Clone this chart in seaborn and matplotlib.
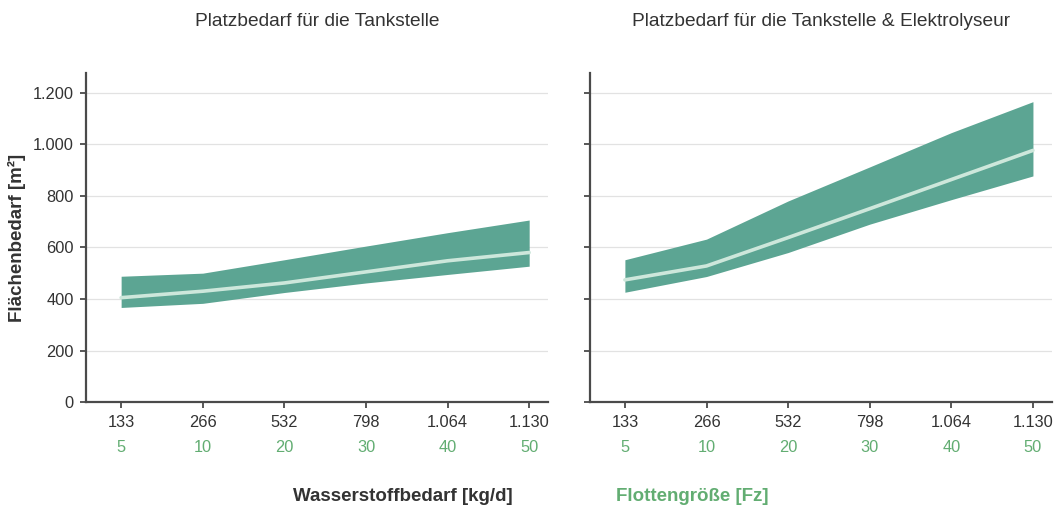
import numpy as np
import pandas as pd
import seaborn as sns
import matplotlib.pyplot as plt
import matplotlib.transforms as mtransforms

# Hydrogen demand (kg/d) and matching fleet size (vehicles)
h2_demand = ["133", "266", "532", "798", "1.064", "1.130"]
fleet_size = ["5", "10", "20", "30", "40", "50"]

# Area requirement, filling station only (m²)
station_low = [367, 383, 425, 462, 495, 527]
station_mid = [405, 430, 462, 505, 548, 580]
station_high = [488, 500, 552, 605, 657, 706]

# Area requirement, filling station plus electrolyser (m²)
electro_low = [426, 487, 580, 690, 785, 877]
electro_mid = [474, 528, 638, 750, 863, 976]
electro_high = [552, 632, 780, 912, 1045, 1165]

titles = ["Platzbedarf für die Tankstelle",
          "Platzbedarf für die Tankstelle & Elektrolyseur"]
y_ticks = [0, 200, 400, 600, 800, 1000, 1200]
y_ticklabels = ["0", "200", "400", "600", "800", "1.000", "1.200"]

BAND = "#5ca593"
MID = "#cde7db"
GREEN = "#62ad72"
DARK = "#333333"
SPINE = "#4a4a4a"

sns.set_theme(style="white")
plt.rcParams["font.family"] = ["Liberation Sans", "DejaVu Sans"]

fig = plt.figure(figsize=(10.57, 5.09), dpi=100)
ax_l = fig.add_axes([0.0814, 0.210, 0.437, 0.646])
ax_r = fig.add_axes([0.558, 0.210, 0.437, 0.646])

panels = [
    (ax_l, station_low, station_mid, station_high),
    (ax_r, electro_low, electro_mid, electro_high),
]

idx = np.arange(len(h2_demand))
for i, (ax, low, mid, high) in enumerate(panels):
    df = pd.DataFrame({"x": idx, "low": low, "mid": mid, "high": high})
    ax.fill_between(df["x"], df["low"], df["high"], color=BAND, lw=0, zorder=2)
    sns.lineplot(data=df, x="x", y="mid", ax=ax, color=MID, lw=2.6, zorder=3)

    ax.set_xlim(-0.43, 5.23)
    ax.set_ylim(0, 1275)
    ax.set_yticks(y_ticks)
    ax.yaxis.grid(True, color="#e2e2e2", lw=0.9, zorder=0)
    ax.set_axisbelow(True)
    ax.set_xticks(idx)
    ax.set_xticklabels(h2_demand)
    ax.set_xlabel("")
    ax.set_ylabel("")
    for side in ("top", "right"):
        ax.spines[side].set_visible(False)
    for side in ("left", "bottom"):
        ax.spines[side].set_color(SPINE)
        ax.spines[side].set_linewidth(1.6)
    ax.tick_params(axis="both", direction="out", length=4, width=1.3,
                   color=SPINE, labelsize=11.8, labelcolor=DARK, pad=5,
                   bottom=True, left=True)
    if i == 0:
        ax.set_yticklabels(y_ticklabels)
        ax.set_ylabel("Flächenbedarf [m²]", fontsize=13.5, fontweight="bold",
                      color=DARK, labelpad=5)
    else:
        ax.set_yticklabels([])

    # Fleet size shown as a second row of labels below the demand values
    trans = mtransforms.blended_transform_factory(ax.transData, ax.transAxes)
    for x, lab in zip(idx, fleet_size):
        ax.text(x, -0.137, lab, transform=trans, ha="center", va="center",
                fontsize=11.8, color=GREEN)

    ax.set_title(titles[i], fontsize=13.8, color=DARK, pad=0, y=1.145)

fig.text(0.381, 0.025, "Wasserstoffbedarf [kg/d]", ha="center", va="center",
         fontsize=13.5, fontweight="bold", color=DARK)
fig.text(0.583, 0.025, "Flottengröße [Fz]", ha="left", va="center",
         fontsize=13.5, fontweight="bold", color=GREEN)

fig.savefig("out.png", dpi=100, facecolor="white")
